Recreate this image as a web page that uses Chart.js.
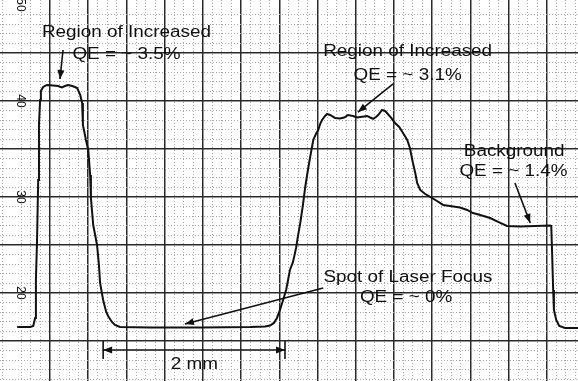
<!DOCTYPE html>
<html>
<head>
<meta charset="utf-8">
<script src="https://cdn.jsdelivr.net/npm/chart.js@4.4.1/dist/chart.umd.min.js"></script>
<style>
  html, body { margin: 0; padding: 0; background: #fff; }
  canvas { display: block; }
</style>
</head>
<body>
<canvas id="scan" width="578" height="381"></canvas>
<script>
/* Trace (x in grid divisions, y in chart units) */
const posX = [
  0.14, 0.48, 0.56, 0.61, 0.63, 0.66, 0.69, 0.71, 0.74, 0.76, 0.82, 0.92, 1.08, 1.21, 1.31, 1.39,
  1.47, 1.58, 1.65, 1.71, 1.79, 1.84, 1.86, 1.94, 2.00, 2.05, 2.07, 2.13, 2.23, 2.28, 2.31, 2.39,
  2.47, 2.52, 2.62, 2.70, 2.83, 3.62, 4.93, 6.24, 6.63, 6.76, 6.86, 6.94, 7.02, 7.10, 7.18, 7.23,
  7.28, 7.36, 7.44, 7.49, 7.55, 7.62, 7.68, 7.75, 7.81, 7.89, 7.96, 8.02, 8.07, 8.12, 8.20, 8.25,
  8.33, 8.46, 8.59, 8.70, 8.80, 8.93, 9.04, 9.12, 9.22, 9.30, 9.38, 9.46, 9.53, 9.59, 9.69, 9.77,
  9.82, 9.93, 10.03, 10.14, 10.24, 10.35, 10.42, 10.50, 10.56, 10.61, 10.69, 10.82, 10.95, 11.13,
  11.29, 11.47, 11.73, 11.92, 12.07, 12.26, 12.52, 12.73, 12.96, 13.30, 13.70, 14.09, 14.12, 14.14,
  14.17, 14.19, 14.25, 14.33, 14.48, 14.82
];
const signal = [
  16.46, 16.46, 16.56, 17.40, 21.35, 25.52, 31.77, 37.50, 40.10, 41.04, 41.46, 41.67, 41.61, 41.56, 41.41, 41.56,
  41.67, 41.56, 41.46, 41.35, 40.63, 39.79, 37.50, 35.94, 34.90, 32.29, 29.90, 27.08, 25.00, 22.92, 21.04, 19.27,
  18.02, 17.60, 16.98, 16.67, 16.46, 16.41, 16.41, 16.46, 16.51, 16.61, 16.88, 17.40, 18.23, 19.27, 20.31, 21.35,
  22.40, 23.23, 24.69, 25.94, 27.29, 29.17, 31.04, 32.81, 34.17, 35.94, 36.56, 36.98, 37.60, 38.02, 38.44, 38.65,
  38.54, 38.23, 38.18, 38.28, 38.54, 38.44, 38.28, 38.33, 38.39, 38.44, 38.28, 38.13, 38.33, 38.54, 39.06, 38.96,
  38.75, 38.23, 37.71, 37.29, 36.67, 35.94, 35.10, 33.54, 32.50, 31.46, 30.73, 30.31, 30.00, 29.58,
  29.17, 29.06, 28.91, 28.65, 28.33, 28.13, 27.81, 27.40, 26.98, 26.93, 26.98, 27.03, 26.98, 24.48,
  20.31, 18.23, 17.19, 16.56, 16.35, 16.35
];

/* Axis */
const xRange = [-0.31, 14.82];
const yRange = [10.83, 50.52];
const yTickValues = [20, 30, 40, 50];
const yTickLabels = ['20', '30', '40', '50'];

/* Notes on the plot */
const noteText = ['Region of Increased', 'QE = ~ 3.5%', 'Region of Increased', 'QE = ~ 3.1%',
  'Background', 'QE = ~ 1.4%', 'Spot of Laser Focus', 'QE = ~ 0%', '2 mm'];
const noteX = [3.00, 3.00, 10.36, 10.36, 13.15, 13.13, 10.37, 10.32, 4.78];
const noteY = [47.08, 44.79, 45.10, 42.60, 34.69, 32.60, 21.56, 19.48, 12.50];

const arrowFromX = [1.34, 9.98, 13.17, 8.15];
const arrowFromY = [45.31, 41.77, 31.46, 20.52];
const arrowToX = [1.26, 9.06, 13.57, 4.53];
const arrowToY = [42.29, 38.85, 27.29, 16.77];

const spanX = [2.39, 7.15];   // the 2 mm bar
const spanY = 14.06;

/* Helpers */
const isWhole = (v, step) => Math.abs(v / step - Math.round(v / step)) < 1e-6;

function arrowHead(ctx, x1, y1, x2, y2) {
  const a = Math.atan2(y2 - y1, x2 - x1);
  const len = 9, half = 3.5;
  ctx.beginPath();
  ctx.moveTo(x2, y2);
  ctx.lineTo(x2 - len * Math.cos(a) + half * Math.sin(a), y2 - len * Math.sin(a) - half * Math.cos(a));
  ctx.lineTo(x2 - len * Math.cos(a) - half * Math.sin(a), y2 - len * Math.sin(a) + half * Math.cos(a));
  ctx.closePath();
  ctx.fill();
}

function arrow(ctx, x1, y1, x2, y2) {
  ctx.beginPath();
  ctx.moveTo(x1, y1);
  ctx.lineTo(x2, y2);
  ctx.stroke();
  arrowHead(ctx, x1, y1, x2, y2);
}

const notesPlugin = {
  id: 'notes',
  afterDatasetsDraw(chart) {
    const { ctx, chartArea, scales: { x, y } } = chart;
    ctx.save();
    ctx.fillStyle = '#111';
    ctx.strokeStyle = '#111';
    ctx.lineWidth = 1.6;

    // rotated y labels sitting inside the paper
    ctx.font = '12px "Liberation Sans", Arial, sans-serif';
    ctx.textAlign = 'center';
    ctx.textBaseline = 'middle';
    yTickValues.forEach((v, i) => {
      ctx.save();
      ctx.translate(chartArea.left + 20, y.getPixelForValue(v));
      ctx.rotate(Math.PI / 2);
      ctx.fillText(yTickLabels[i], 0, 0);
      ctx.restore();
    });

    // labels (scan is a bit stretched sideways)
    ctx.font = '16px "Liberation Sans", Arial, sans-serif';
    noteText.forEach((t, i) => {
      ctx.save();
      ctx.translate(x.getPixelForValue(noteX[i]), y.getPixelForValue(noteY[i]));
      ctx.scale(1.18, 1);
      ctx.fillText(t, 0, 0);
      ctx.restore();
    });

    arrowFromX.forEach((_, i) => {
      arrow(ctx,
        x.getPixelForValue(arrowFromX[i]), y.getPixelForValue(arrowFromY[i]),
        x.getPixelForValue(arrowToX[i]), y.getPixelForValue(arrowToY[i]));
    });

    // dimension bar
    const xa = x.getPixelForValue(spanX[0]);
    const xb = x.getPixelForValue(spanX[1]);
    const yb = y.getPixelForValue(spanY);
    const xm = (xa + xb) / 2;
    arrow(ctx, xm, yb, xa, yb);
    arrow(ctx, xm, yb, xb, yb);
    ctx.beginPath();
    ctx.moveTo(xa, yb - 9); ctx.lineTo(xa, yb + 9);
    ctx.moveTo(xb, yb - 9); ctx.lineTo(xb, yb + 9);
    ctx.stroke();

    ctx.restore();
  }
};

/* Chart */
new Chart(document.getElementById('scan').getContext('2d'), {
  type: 'line',
  data: {
    datasets: [{
      data: posX.map((v, i) => ({ x: v, y: signal[i] })),
      borderColor: '#111',
      borderWidth: 2,
      pointRadius: 0,
      tension: 0,
      fill: false
    }]
  },
  options: {
    responsive: false,
    animation: false,
    events: [],
    layout: { padding: 0 },
    plugins: { legend: { display: false }, tooltip: { enabled: false } },
    scales: {
      x: {
        type: 'linear',
        min: xRange[0], max: xRange[1],
        ticks: { display: false, stepSize: 0.25, includeBounds: false },
        grid: {
          drawTicks: false,
          color: c => isWhole(c.tick.value, 1) ? (c.tick.value < 1 ? 'rgba(0,0,0,0)' : '#2a2a2a') : '#a8a8a8',
          lineWidth: c => isWhole(c.tick.value, 1) ? 1.5 : 1
        },
        border: { display: false, dash: c => isWhole(c.tick.value, 1) ? [] : [1, 2] }
      },
      y: {
        type: 'linear',
        min: yRange[0], max: yRange[1],
        ticks: { display: false, stepSize: 1, includeBounds: false },
        grid: {
          drawTicks: false,
          color: c => isWhole(c.tick.value, 5) ? (c.tick.value >= 50 ? 'rgba(0,0,0,0)' : '#2a2a2a') : '#a8a8a8',
          lineWidth: c => isWhole(c.tick.value, 5) ? 1.5 : 1
        },
        border: { display: false, dash: c => isWhole(c.tick.value, 5) ? [] : [1, 2] }
      }
    }
  },
  plugins: [notesPlugin]
});
</script>
</body>
</html>
